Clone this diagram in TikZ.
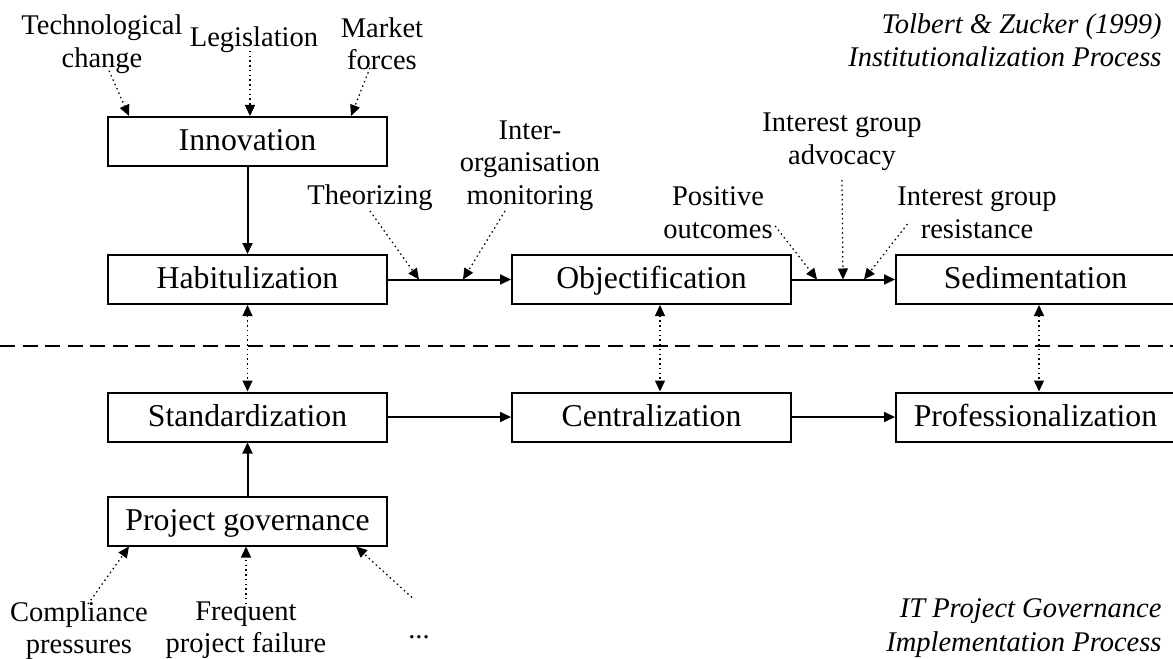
\documentclass[tikz,border=0pt]{standalone}
\usepackage{fontspec}
\setmainfont{Liberation Serif}
\usetikzlibrary{arrows.meta, positioning, calc}
\tikzset{
  every picture/.style={font=\fontsize{11.4}{13}\selectfont, >={Triangle[length=4.4pt, width=4pt]}},
  stage/.style={draw, line width=0.8pt, minimum width=111.6pt, minimum height=19.6pt, inner sep=0pt,
                text height=9.2pt, text depth=2pt, font=\fontsize{12.7}{14}\selectfont},
  cause/.style={align=center, inner sep=0pt},
  caption/.style={align=right, inner sep=0pt, font=\fontsize{11.4}{13.4}\selectfont\itshape},
  flow/.style={->, line width=0.8pt},
  infl/.style={->, line width=0.5pt, dash pattern=on 0.6pt off 1.3pt},
  link/.style={<->, line width=0.5pt, dash pattern=on 0.6pt off 1.3pt},
  split/.style={line width=0.8pt, dash pattern=on 6pt off 3pt},
}
\begin{document}
\begin{tikzpicture}[x=0.4pt, y=-0.4pt]
  \useasboundingbox (0,0) rectangle (1173,659);
  \foreach \t/\n/\x/\y in {Innovation/inno/247.5/141.5, Habitulization/habit/247.5/279.5,
      Objectification/obj/651.5/279.5, Sedimentation/sedi/1035.5/279.5,
      Standardization/stand/247.5/417, Centralization/central/651.5/417,
      Professionalization/prof/1035.5/417, Project governance/projgov/247.5/521} {
    \node[stage] (\n) at (\x,\y) {\t};
  }
  \foreach \a/\b in {inno/habit, habit/obj, obj/sedi, stand/central, central/prof, projgov/stand} \draw[flow] (\a) -- (\b);
  \draw[link] (habit) -- (stand);
  \draw[link] ([xshift=3.4pt]obj.south) -- ([xshift=3.4pt]central.north);
  \draw[link] ([xshift=1.4pt]sedi.south) -- ([xshift=1.4pt]prof.north);
  \draw[split] (0,346) -- (1173,346);

  \node[cause] (techchange) at (102,44) {Technological\\change};
  \node[cause] (legis) at (254,39.5) {Legislation};
  \node[cause] (market) at (382,44) {Market\\forces};
  \node[cause, anchor=south] (theor) at (370,211) {Theorizing};
  \node[cause, anchor=south] (monitor) at (530,211) {Inter-\\organisation\\monitoring};
  \node[cause, anchor=south] (posout) at (718,239) {Positive\\outcomes};
  \node[cause, anchor=south] (advoc) at (842,171) {Interest group\\advocacy};
  \node[cause, anchor=south] (resist) at (977,239) {Interest group\\resistance};
  \node[cause, anchor=north] (compl) at (79,601) {Compliance\\pressures};
  \node[cause, anchor=north] (freqfail) at (246,601) {Frequent\\project failure};
  \node[cause, anchor=base] (dots) at (419,638) {...};
  \node[caption, anchor=north east] (tz) at (1162,13) {Tolbert \& Zucker (1999)\\Institutionalization Process};
  \node[caption, anchor=south east] (itpg) at (1162,658) {IT Project Governance\\Implementation Process};

  \coordinate (j1) at ([xshift=12.4pt]habit.east);
  \coordinate (j2) at ([xshift=30pt]habit.east);
  \coordinate (j3) at ([xshift=10pt]obj.east);
  \coordinate (j4) at ([xshift=20.4pt]obj.east);
  \coordinate (j5) at ([xshift=28.8pt]obj.east);
  \draw[infl] ([shift={(7,-3)}]techchange.south) -- ([shift={(22,0)}]inno.north west);
  \draw[infl] ([shift={(-4,-2)}]legis.south) -- ([shift={(2.5,0)}]inno.north);
  \draw[infl] ([shift={(-12,-3)}]market.south) -- ([shift={(-37,0)}]inno.north east);
  \draw[infl] (theor.south) -- (j1);
  \draw[infl] ([shift={(-25,0)}]monitor.south) -- (j2);
  \draw[infl] ([shift={(2,-13)}]posout.south east) -- (j3);
  \draw[infl] ([shift={(0,9)}]advoc.south) -- (j4);
  \draw[infl] ([shift={(10.5,-15)}]resist.south west) -- (j5);
  \draw[infl] ([shift={(9,3)}]compl.north) -- ([shift={(22,0)}]projgov.south west);
  \draw[infl] ([shift={(0,3)}]freqfail.north) -- (freqfail.north |- projgov.south);
  \draw[infl] ([shift={(-7,-37)}]dots.north) -- ([shift={(-32,0)}]projgov.south east);
\end{tikzpicture}
\end{document}
